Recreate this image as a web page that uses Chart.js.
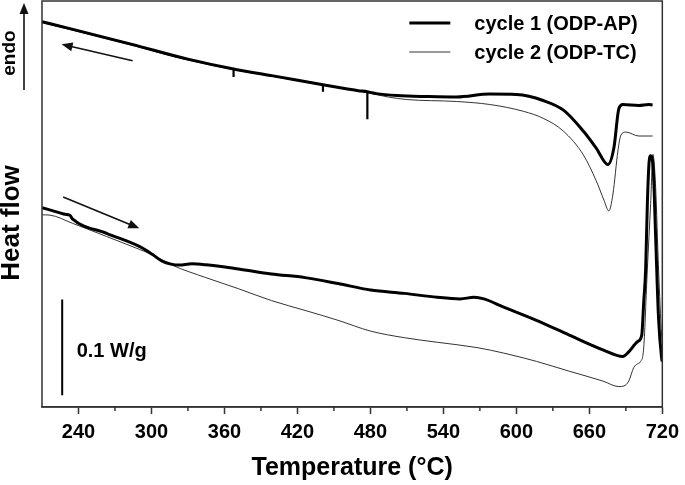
<!DOCTYPE html>
<html>
<head>
<meta charset="utf-8">
<script src="https://cdn.jsdelivr.net/npm/chart.js@4.4.0/dist/chart.umd.min.js"></script>
<style>
  html, body { margin: 0; padding: 0; background: #fff; }
  #dsc { display: block; }
</style>
</head>
<body>
<canvas id="dsc" width="685" height="485"></canvas>
<script>
// Temperature (°C) and heat flow (a.u., endo up)
const coolT1 = [210, 233, 284, 330, 367.5, 400, 441, 460, 470, 477.5, 485, 502, 527, 551, 578, 600, 622, 639, 655, 665.5, 675.3, 680.2, 684.3, 687.6, 700.6, 708.8, 712];
const coolH1 = [391, 384, 368, 353, 343, 336, 327, 323, 321, 320, 318, 316, 315, 314.5, 317.5, 317, 311, 301, 280, 263, 246, 263, 303, 307, 306, 307, 306.5];

// sharp downward spikes on the cycle 1 cooling trace
const spikeT = [367.5, 441, 477.5];
const spikeTop = [343, 327, 320];
const spikeBottom = [335, 320, 292];

const coolT2 = [210, 233, 284, 330, 367, 400, 441, 470, 485, 495, 510, 551, 578, 606, 622, 638.6, 655, 665.5, 672, 676, 679.4, 683.5, 686, 690, 700.6, 712];
const coolH2 = [390, 383, 367, 352, 342.5, 335.5, 326.5, 320.5, 317, 314.5, 312, 310, 307, 300, 293, 280, 256, 230, 210, 199, 216, 260, 276, 279, 275, 275];

const heatT1 = [210, 224.7, 229, 232.9, 235, 263.1, 290, 300.6, 308.8, 316.1, 322.7, 333.3, 344.7, 371.6, 398.6, 426.3, 453.3, 480.2, 508, 534.9, 553.7, 565.1, 573.3, 589.6, 616.5, 643.5, 671.2, 687.6, 692.4, 699.6, 703.1, 704.7, 706.3, 707.7, 709, 710.4, 712.6, 714.5, 716.9, 719.4, 720];
const heatH1 = [202.3, 197, 195.5, 194.5, 191, 176.3, 163, 155, 148, 145, 144, 145.3, 144.3, 140, 135, 131.3, 125.3, 118.7, 115.3, 111.3, 109.7, 111.3, 109.7, 101.3, 88, 73, 58, 51.3, 56, 66.3, 73, 106.3, 140, 206.3, 246.3, 255, 240, 173, 90, 50, 46];

const heatT2 = [210, 216.5, 235.3, 263.1, 290, 300.6, 316.9, 344.7, 371.6, 398.6, 426.3, 453.3, 480.2, 508, 534.9, 567.6, 589.6, 616.5, 643.5, 671.2, 684.3, 688.4, 692.4, 696.5, 699.8, 702.2, 704.7, 707.7, 710.4, 712.3, 714.5, 716.9, 719.4, 720];
const heatH2 = [195, 194.7, 186.3, 173, 160, 154.5, 144, 131.3, 120, 108, 98, 88, 77, 70.3, 65.7, 60.3, 54.7, 46.3, 36.3, 26.3, 20.7, 21.3, 26.3, 40, 44, 46.3, 60, 140, 206.3, 256.3, 223, 140, 73, 65];

// 0.1 W/g scale bar
const barT = [226.6, 226.6];
const barH = [12, 109];

// direction arrows [tailT, tailH, tipT, tipH]
const coolArrow = [284.5, 351.3, 226.1, 368];
const heatArrow = [227.4, 213, 290, 181.3];

const majorTicks = [240, 300, 360, 420, 480, 540, 600, 660, 720];
const minorTicks = [270, 330, 390, 450, 510, 570, 630, 690];
const legendLabels = ["cycle 1 (ODP-AP)", "cycle 2 (ODP-TC)"];

const FONT = "'Liberation Sans', Arial, Helvetica, sans-serif";

function pts(xs, ys) {
    return xs.map((v, i) => ({ x: v, y: ys[i] }));
}

// vertical segments separated by gaps
function spikes() {
    const out = [];
    spikeT.forEach(function (t, i) {
        out.push({ x: t, y: spikeTop[i] }, { x: t, y: spikeBottom[i] }, { x: t, y: null });
    });
    return out;
}

function drawArrow(ctx, x1, y1, x2, y2) {
    const ang = Math.atan2(y2 - y1, x2 - x1);
    const len = 11, half = 4.5;
    ctx.beginPath();
    ctx.moveTo(x1, y1);
    ctx.lineTo(x2 - Math.cos(ang) * len * 0.8, y2 - Math.sin(ang) * len * 0.8);
    ctx.stroke();
    ctx.beginPath();
    ctx.moveTo(x2, y2);
    ctx.lineTo(x2 - Math.cos(ang) * len - Math.sin(ang) * half, y2 - Math.sin(ang) * len + Math.cos(ang) * half);
    ctx.lineTo(x2 - Math.cos(ang) * len + Math.sin(ang) * half, y2 - Math.sin(ang) * len - Math.cos(ang) * half);
    ctx.closePath();
    ctx.fill();
}

// frame, minor ticks, arrows, labels and legend
const decor = {
    id: "decor",
    afterDraw(chart) {
        const { ctx, chartArea: a, scales: { x, y } } = chart;
        ctx.save();
        ctx.strokeStyle = "#333";
        ctx.lineWidth = 1.5;
        ctx.strokeRect(a.left, a.top, a.right - a.left, a.bottom - a.top);

        minorTicks.forEach(function (v) {
            const px = x.getPixelForValue(v);
            ctx.beginPath();
            ctx.moveTo(px, a.bottom);
            ctx.lineTo(px, a.bottom + 4);
            ctx.stroke();
        });

        // arrows
        ctx.strokeStyle = "#111";
        ctx.fillStyle = "#111";
        ctx.lineWidth = 1.6;
        [coolArrow, heatArrow].forEach(function (ar) {
            drawArrow(ctx, x.getPixelForValue(ar[0]), y.getPixelForValue(ar[1]),
                x.getPixelForValue(ar[2]), y.getPixelForValue(ar[3]));
        });
        drawArrow(ctx, a.left - 18, a.top + 89, a.left - 18, a.top + 2);

        // rotated texts
        ctx.fillStyle = "#000";
        ctx.textAlign = "center";
        ctx.textBaseline = "middle";
        ctx.save();
        ctx.translate(10, a.top + 52);
        ctx.rotate(-Math.PI / 2);
        ctx.font = "bold 19px " + FONT;
        ctx.fillText("endo", 0, 0);
        ctx.restore();
        ctx.save();
        ctx.translate(12, 223);
        ctx.rotate(-Math.PI / 2);
        ctx.font = "bold 26px " + FONT;
        ctx.fillText("Heat flow", 0, 0);
        ctx.restore();

        // scale bar label
        ctx.textAlign = "left";
        ctx.textBaseline = "alphabetic";
        ctx.font = "bold 20px " + FONT;
        ctx.fillText("0.1 W/g", x.getPixelForValue(barT[0]) + 14.5, y.getPixelForValue(51));

        // legend
        const lx = a.right - 253;
        [[3, "#000"], [1, "#333"]].forEach(function (s, i) {
            const ly = a.top + 22 + i * 29;
            ctx.strokeStyle = s[1];
            ctx.lineWidth = s[0];
            ctx.beginPath();
            ctx.moveTo(lx, ly);
            ctx.lineTo(lx + 41, ly);
            ctx.stroke();
            ctx.fillStyle = "#000";
            ctx.textBaseline = "middle";
            ctx.fillText(legendLabels[i], lx + 65, ly + 1);
        });
        ctx.restore();
    }
};

const thick = { borderColor: "#000", borderWidth: 3, pointRadius: 0, fill: false, cubicInterpolationMode: "monotone" };
const thin = { borderColor: "#333", borderWidth: 1, pointRadius: 0, fill: false, cubicInterpolationMode: "monotone" };

new Chart(document.getElementById("dsc"), {
    type: "line",
    data: {
        datasets: [
            Object.assign({ label: legendLabels[0], data: pts(heatT1, heatH1) }, thick),
            Object.assign({ label: legendLabels[0] + " cooling", data: pts(coolT1, coolH1) }, thick),
            { label: "spikes", data: spikes(), borderColor: "#000", borderWidth: 2.2, pointRadius: 0, spanGaps: false },
            Object.assign({ label: legendLabels[1], data: pts(heatT2, heatH2) }, thin),
            Object.assign({ label: legendLabels[1] + " cooling", data: pts(coolT2, coolH2) }, thin),
            { label: "0.1 W/g", data: pts(barT, barH), borderColor: "#000", borderWidth: 2, pointRadius: 0 }
        ]
    },
    options: {
        responsive: false,
        animation: false,
        devicePixelRatio: 1,
        layout: { padding: { left: 42, right: 19, top: 1, bottom: 0 } },
        plugins: { legend: { display: false }, tooltip: { enabled: false } },
        scales: {
            x: {
                type: "linear",
                min: 210,
                max: 720,
                afterBuildTicks: function (scale) {
                    scale.ticks = majorTicks.map(v => ({ value: v }));
                },
                grid: { drawOnChartArea: false, drawTicks: true, tickLength: 7, tickColor: "#333", tickWidth: 1.5 },
                border: { display: true, color: "#333", width: 1.5 },
                ticks: { padding: 6, color: "#000", font: { family: FONT, size: 20, weight: "bold" } },
                title: {
                    display: true,
                    text: "Temperature (°C)",
                    color: "#000",
                    font: { family: FONT, size: 25, weight: "bold" },
                    padding: { top: 3, bottom: 2 }
                }
            },
            y: { type: "linear", min: 0, max: 412, display: false }
        }
    },
    plugins: [decor]
});
</script>
</body>
</html>
